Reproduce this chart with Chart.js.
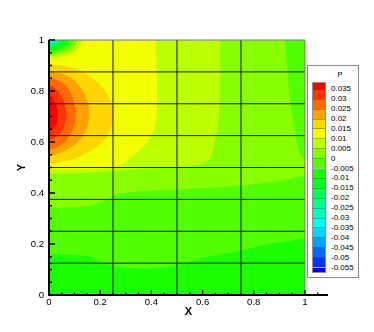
<!DOCTYPE html>
<html><head><meta charset="utf-8">
<script src="https://cdn.jsdelivr.net/npm/chart.js@4.4.1/dist/chart.umd.min.js"></script>
<style>
html,body{margin:0;padding:0;background:#fff;}
#wrap{position:relative;width:374px;height:332px;overflow:hidden;font-family:"Liberation Sans",Arial,Helvetica,sans-serif;}
#c{position:absolute;left:0;top:0;}
.lt{position:absolute;font-size:8px;line-height:8px;color:#000;white-space:nowrap;}
</style></head><body>
<div id="wrap"><canvas id="c" width="374" height="332"></canvas></div>
<script>
// ---------- data ----------
const levels = [0.035, 0.03, 0.025, 0.02, 0.015, 0.01, 0.005, 0, -0.005, -0.01, -0.015, -0.02, -0.025, -0.03, -0.035, -0.04, -0.045, -0.05, -0.055];
const levelLabels = ['0.035','0.03','0.025','0.02','0.015','0.01','0.005','0','-0.005','-0.01','-0.015','-0.02','-0.025','-0.03','-0.035','-0.04','-0.045','-0.05','-0.055'];
const bandColors = ['#ff0000','#ff3500','#ff6b00','#ffa100','#ffd600','#f2ff00','#bcff00','#87ff00','#51ff00','#1bff00',
                    '#00ff1b','#00ff51','#00ff87','#00ffbc','#00fff2','#00d6ff','#00a1ff','#006bff','#0035ff','#0000ff'];
const xTickValues = [0, 0.2, 0.4, 0.6, 0.8, 1];
const xTickLabels = ['0','0.2','0.4','0.6','0.8','1'];
const yTickValues = [0, 0.2, 0.4, 0.6, 0.8, 1];
const yTickLabels = ['0','0.2','0.4','0.6','0.8','1'];
const xTickMarks = [0,0.05,0.1,0.15,0.2,0.25,0.3,0.35,0.4,0.45,0.5,0.55,0.6,0.65,0.7,0.75,0.8,0.85,0.9,0.95,1,1.05];
const yTickMarks = [0,0.05,0.1,0.15,0.2,0.25,0.3,0.35,0.4,0.45,0.5,0.55,0.6,0.65,0.7,0.75,0.8,0.85,0.9,0.95,1];
const meshX = [0.25, 0.5, 0.75];
const meshY = [0.125, 0.25, 0.375, 0.5, 0.625, 0.75, 0.875];

// contour regions (x, y in data units); painted from lowest to highest
const domainAll = [[-0.05,-0.05],[1.05,-0.05],[1.05,1.05],[-0.05,1.05]];
const aboveM0005 = [[-0.05,0.16],[0,0.16],[0.1,0.157],[0.16,0.15],[0.2,0.13],[0.25,0.114],[0.3,0.107],[0.4,0.104],[0.475,0.112],[0.55,0.13],[0.6,0.147],[0.74,0.172],[0.86,0.2],[1,0.222],[1.05,0.23],[1.05,1.05],[-0.05,1.05]];
const above0 = [[-0.05,0.342],[0,0.342],[0.08,0.344],[0.16,0.35],[0.21,0.368],[0.25,0.388],[0.29,0.4],[0.4,0.41],[0.514,0.414],[0.74,0.428],[0.9,0.447],[1,0.468],[1.05,0.47],[1.05,0.525],[1,0.532],[0.982,0.548],[0.962,0.637],[0.943,0.755],[0.93,0.886],[0.923,1],[0.922,1.05],[-0.05,1.05]];
const above0005 = [[-0.05,0.475],[0,0.475],[0.1,0.477],[0.2,0.482],[0.3,0.49],[0.4,0.496],[0.5,0.502],[0.56,0.508],[0.604,0.515],[0.63,0.535],[0.648,0.6],[0.663,0.69],[0.666,0.8],[0.668,0.9],[0.669,1],[0.669,1.05],[-0.05,1.05]];
const above001 = [[-0.05,0.493],[0,0.493],[0.1,0.493],[0.2,0.494],[0.25,0.498],[0.29,0.515],[0.34,0.555],[0.385,0.6],[0.41,0.65],[0.42,0.7],[0.422,0.76],[0.422,0.82],[0.419,0.9],[0.416,1],[0.416,1.05],[-0.05,1.05]];
const above0015 = [[-0.05,0.905],[0,0.905],[0.05,0.9],[0.1,0.89],[0.15,0.865],[0.2,0.825],[0.235,0.775],[0.252,0.72],[0.245,0.665],[0.22,0.615],[0.17,0.57],[0.1,0.535],[0.04,0.52],[0,0.515],[-0.05,0.515]];
const above002 = [[-0.05,0.875],[0,0.875],[0.06,0.865],[0.1,0.84],[0.135,0.795],[0.155,0.74],[0.158,0.7],[0.15,0.66],[0.13,0.62],[0.1,0.59],[0.05,0.56],[0,0.545],[-0.05,0.545]];
const above0025 = [[-0.05,0.85],[0,0.85],[0.04,0.84],[0.075,0.81],[0.097,0.76],[0.105,0.71],[0.098,0.665],[0.08,0.625],[0.05,0.59],[0,0.57],[-0.05,0.57]];
const above003 = [[-0.05,0.825],[0,0.825],[0.035,0.8],[0.058,0.76],[0.068,0.71],[0.062,0.67],[0.045,0.635],[0,0.605],[-0.05,0.605]];
const above0035 = [[-0.05,0.79],[0,0.79],[0.022,0.76],[0.035,0.715],[0.03,0.675],[0.015,0.65],[0,0.64],[-0.05,0.64]];
// low-pressure patch in the top-left corner
const cornerBelow001 = [[-0.05,0.93],[0,0.93],[0.07,0.94],[0.11,0.962],[0.13,1],[0.13,1.05],[-0.05,1.05]];
const cornerBelow0005 = [[-0.05,0.94],[0,0.94],[0.06,0.949],[0.095,0.967],[0.112,1],[0.112,1.05],[-0.05,1.05]];
const cornerBelow0 = [[-0.05,0.949],[0,0.949],[0.052,0.957],[0.081,0.972],[0.095,1],[0.095,1.05],[-0.05,1.05]];
const cornerBelowM0005 = [[-0.05,0.958],[0,0.958],[0.043,0.964],[0.066,0.977],[0.078,1],[0.078,1.05],[-0.05,1.05]];
const cornerBelowM001 = [[-0.05,0.966],[0,0.966],[0.034,0.971],[0.053,0.981],[0.062,1],[0.062,1.05],[-0.05,1.05]];
const cornerBelowM0015 = [[-0.05,0.973],[0,0.973],[0.026,0.977],[0.041,0.985],[0.048,1],[0.048,1.05],[-0.05,1.05]];
const cornerBelowM002 = [[-0.05,0.98],[0,0.98],[0.02,0.983],[0.031,0.989],[0.036,1],[0.036,1.05],[-0.05,1.05]];
const cornerBelowM0025 = [[-0.05,0.986],[0,0.986],[0.014,0.988],[0.021,0.992],[0.025,1],[0.025,1.05],[-0.05,1.05]];
const cornerBelowM003 = [[-0.05,0.991],[0,0.991],[0.008,0.992],[0.013,0.995],[0.015,1],[0.015,1.05],[-0.05,1.05]];
const cornerBelowM0035 = [[-0.05,0.995],[0,0.995],[0.007,1],[0.007,1.05],[-0.05,1.05]];

// each region with the colour band it is painted in (index into bandColors)
const layers = [
  [domainAll, 9], [aboveM0005, 8], [above0, 7], [above0005, 6], [above001, 5],
  [above0015, 4], [above002, 3], [above0025, 2], [above003, 1], [above0035, 0],
  [cornerBelow001, 6], [cornerBelow0005, 7], [cornerBelow0, 8], [cornerBelowM0005, 9],
  [cornerBelowM001, 10], [cornerBelowM0015, 11], [cornerBelowM002, 12], [cornerBelowM0025, 13],
  [cornerBelowM003, 14], [cornerBelowM0035, 15]
];

// ---------- chart ----------
const FONT = '"Liberation Sans", Arial, Helvetica, sans-serif';
Chart.defaults.font.family = FONT;
Chart.defaults.color = '#000';

const polyDatasets = layers.map(([pts, band]) => ({
  data: pts.map(([x, y]) => ({x, y})),
  showLine: true, fill: 'shape',
  backgroundColor: bandColors[band], borderColor: 'rgba(0,0,0,0)', borderWidth: 0,
  pointRadius: 0, pointHoverRadius: 0, tension: 0.3, capBezierPoints: false
}));
const meshStyle = {showLine: true, fill: false, borderColor: '#151515', borderWidth: 1, pointRadius: 0, pointHoverRadius: 0, tension: 0};
const meshDatasets = [
  ...meshX.map(v => Object.assign({data: [{x: v, y: 0}, {x: v, y: 1}]}, meshStyle)),
  ...meshY.map(v => Object.assign({data: [{x: 0, y: v}, {x: 1, y: v}]}, meshStyle))
];

const clipPlugin = {
  id: 'clipData',
  beforeDatasetsDraw(chart) {
    const {ctx, scales: {x, y}} = chart;
    const l = x.getPixelForValue(0), r = x.getPixelForValue(1), t = y.getPixelForValue(1), b = y.getPixelForValue(0);
    ctx.save();
    ctx.beginPath(); ctx.rect(l, t, r - l, b - t); ctx.clip();
  },
  afterDatasetsDraw(chart) { chart.ctx.restore(); }
};

const axesPlugin = {
  id: 'tecAxes',
  afterDraw(chart) {
    const {ctx, scales: {x, y}} = chart;
    const X = v => x.getPixelForValue(v), Y = v => y.getPixelForValue(v);
    ctx.save();
    ctx.strokeStyle = '#7a7a7a'; ctx.lineWidth = 1;
    ctx.beginPath(); ctx.moveTo(X(0), Y(1)); ctx.lineTo(X(1), Y(1)); ctx.lineTo(X(1), Y(0)); ctx.stroke();
    ctx.strokeStyle = '#000'; ctx.lineWidth = 2;
    ctx.beginPath();
    ctx.moveTo(X(0) - 1, Y(0)); ctx.lineTo(X(x.max), Y(0));
    ctx.moveTo(X(0), Y(0)); ctx.lineTo(X(0), Y(1));
    ctx.stroke();
    const isMajor = (arr, v) => arr.some(m => Math.abs(m - v) < 1e-9);
    ctx.beginPath();
    ctx.lineWidth = 1.3;
    xTickMarks.forEach(v => {
      const len = isMajor(xTickValues, v) ? 5 : 2.5;
      ctx.moveTo(X(v), Y(0)); ctx.lineTo(X(v), Y(0) - len);
    });
    yTickMarks.forEach(v => {
      const len = isMajor(yTickValues, v) ? 6 : 3;
      ctx.moveTo(X(0), Y(v)); ctx.lineTo(X(0) + len, Y(v));
    });
    ctx.stroke();
    ctx.restore();
  }
};

new Chart(document.getElementById('c'), {
  type: 'scatter',
  data: {datasets: [...meshDatasets, ...polyDatasets.slice().reverse()]},
  options: {
    responsive: false, animation: false, devicePixelRatio: 1,
    layout: {padding: {top: 40, right: 46, left: 0, bottom: 0}},
    plugins: {legend: {display: false}, tooltip: {enabled: false}},
    events: [],
    scales: {
      x: {
        type: 'linear', position: 'bottom', min: 0, max: 1.09,
        grid: {display: false, drawTicks: false}, border: {display: false},
        ticks: {font: {size: 9.6}, color: '#000', padding: 2, autoSkip: false, maxRotation: 0,
                callback: v => { const i = xTickValues.findIndex(t => Math.abs(t - v) < 1e-9); return i >= 0 ? xTickLabels[i] : ''; }},
        afterBuildTicks: s => { s.ticks = xTickValues.map(v => ({value: v})); },
        afterFit: s => { s.height = 37; s.paddingLeft = 0; s.paddingRight = 0; },
        title: {display: true, text: 'X', font: {size: 11, weight: 'bold'}, color: '#000', padding: {top: 0, bottom: 13}}
      },
      y: {
        type: 'linear', position: 'left', min: 0, max: 1,
        grid: {display: false, drawTicks: false}, border: {display: false},
        ticks: {font: {size: 9.6}, color: '#000', padding: 5, autoSkip: false,
                callback: v => { const i = yTickValues.findIndex(t => Math.abs(t - v) < 1e-9); return i >= 0 ? yTickLabels[i] : ''; }},
        afterBuildTicks: s => { s.ticks = yTickValues.map(v => ({value: v})); },
        afterFit: s => { s.width = 49; s.paddingTop = 0; s.paddingBottom = 0; },
        title: {display: true, text: 'Y', font: {size: 11, weight: 'bold'}, color: '#000', padding: {top: 15, bottom: 0}}
      }
    }
  },
  plugins: [clipPlugin, axesPlugin]
});

// ---------- legend ----------
const wrap = document.getElementById('wrap');
function el(css, text, cls) {
  const d = document.createElement('div');
  if (cls) d.className = cls;
  d.style.cssText = css;
  if (text != null) d.textContent = text;
  wrap.appendChild(d);
  return d;
}
el('position:absolute;left:307px;top:65px;width:50px;height:211px;border:1px solid #8a8a8a;background:#fff;');
el('left:330px;top:71px;width:20px;text-align:center;font-size:7.5px;line-height:8px;', 'P', 'lt');
const firstB = 89.3, stepB = 9.9, boxTop = 83, boxBottom = 271.5;
for (let i = 0; i < bandColors.length; i++) {
  const t = i === 0 ? boxTop : firstB + (i - 1) * stepB;
  const b = i === bandColors.length - 1 ? boxBottom : firstB + i * stepB;
  el(`position:absolute;left:313px;top:${t}px;width:12px;height:${b - t}px;background:${bandColors[i]};`);
}
levels.forEach((lv, k) => {
  const yc = firstB + k * stepB;
  el(`position:absolute;left:313px;top:${yc - 0.5}px;width:12px;height:1px;background:rgba(0,0,0,0.28);`);
  el(`left:331px;top:${yc - 4}px;`, levelLabels[k], 'lt');
});
el(`position:absolute;left:312px;top:${boxTop - 1}px;width:12px;height:${boxBottom - boxTop}px;border:1px solid rgba(70,70,70,0.6);`);
</script></body></html>
